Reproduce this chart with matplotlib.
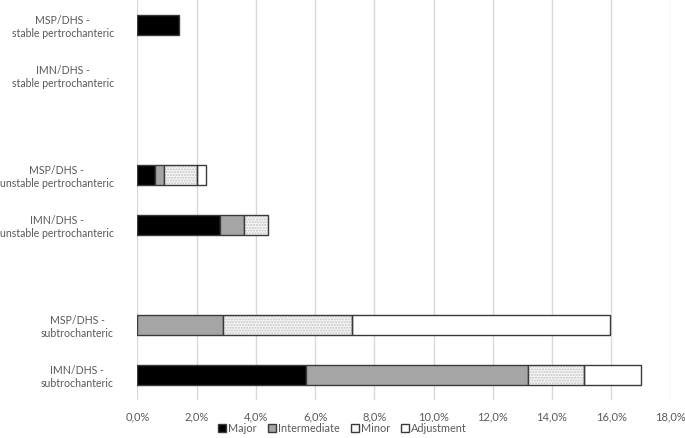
import matplotlib.pyplot as plt
from matplotlib.ticker import FuncFormatter, MultipleLocator
from matplotlib.patches import Patch

# categories from top to bottom, '' marks the empty gap rows
categories = [
    "MSP/DHS -\nstable pertrochanteric",
    "IMN/DHS -\nstable pertrochanteric",
    "",
    "MSP/DHS -\nunstable pertrochanteric",
    "IMN/DHS -\nunstable pertrochanteric",
    "",
    "MSP/DHS -\nsubtrochanteric",
    "IMN/DHS -\nsubtrochanteric",
]

# complication rates in percent
major = [1.4, 0.0, 0.0, 0.6, 2.8, 0.0, 0.0, 5.7]
intermediate = [0.0, 0.0, 0.0, 0.3, 0.8, 0.0, 2.9, 7.5]
minor = [0.0, 0.0, 0.0, 1.1, 0.8, 0.0, 4.35, 1.9]
adjustment = [0.0, 0.0, 0.0, 0.3, 0.0, 0.0, 8.7, 1.9]

plt.rcParams['font.family'] = ['Lato', 'DejaVu Sans']

fig = plt.figure(figsize=(6.85, 4.38), dpi=100)
ax = fig.add_axes([0.2007, 0.0868, 0.7779, 0.9132])

ypos = list(range(len(categories)))
edge = '#3a3a3a'
h = 0.4


def stack(values, left, **kw):
    # only draw the non-zero pieces so empty rows get no stray edges
    idx = [i for i, v in enumerate(values) if v > 0]
    ax.barh([ypos[i] for i in idx], [values[i] for i in idx], h,
            left=[left[i] for i in idx], **kw)


left = [0.0] * len(ypos)
stack(major, left, color='black', edgecolor=edge, linewidth=1, zorder=3)
left = [a + b for a, b in zip(left, major)]
stack(intermediate, left, color='#a5a5a5', edgecolor=edge, linewidth=1, zorder=3)
left = [a + b for a, b in zip(left, intermediate)]
# minor: dotted fill first, then the outline
stack(minor, left, color='#f6f6f6', edgecolor='#c4c4c4', hatch='......', linewidth=0, zorder=3)
stack(minor, left, fill=False, edgecolor=edge, linewidth=1, zorder=4)
left = [a + b for a, b in zip(left, minor)]
stack(adjustment, left, color='white', edgecolor=edge, linewidth=1, zorder=3)

ax.set_xlim(0, 18)
ax.set_ylim(len(categories) - 0.5, -0.5)
ax.xaxis.set_major_locator(MultipleLocator(2))
ax.xaxis.set_major_formatter(FuncFormatter(lambda v, p: f"{v:.1f}%".replace('.', ',')))
ax.set_yticks(ypos)
ax.set_yticklabels(categories, multialignment='center')
ax.grid(axis='x', color='#d9d9d9', linewidth=1, zorder=0)
for s in ax.spines.values():
    s.set_visible(False)
ax.tick_params(length=0, colors='#595959', labelsize=8)
ax.tick_params(axis='y', pad=17, labelsize=7.6)
ax.tick_params(axis='x', pad=8)

handles = [
    Patch(facecolor='black', edgecolor=edge, label='Major'),
    Patch(facecolor='#a5a5a5', edgecolor=edge, label='Intermediate'),
    Patch(facecolor='#f6f6f6', edgecolor=edge, label='Minor'),
    Patch(facecolor='white', edgecolor=edge, label='Adjustment'),
]
fig.legend(handles=handles, loc='lower center', bbox_to_anchor=(0.5, -0.012), ncol=4,
           frameon=False, fontsize=7.8, labelcolor='#595959', handlelength=0.75,
           handleheight=0.75, handletextpad=0.2, columnspacing=1.0)

fig.savefig('out.png', dpi=100)
